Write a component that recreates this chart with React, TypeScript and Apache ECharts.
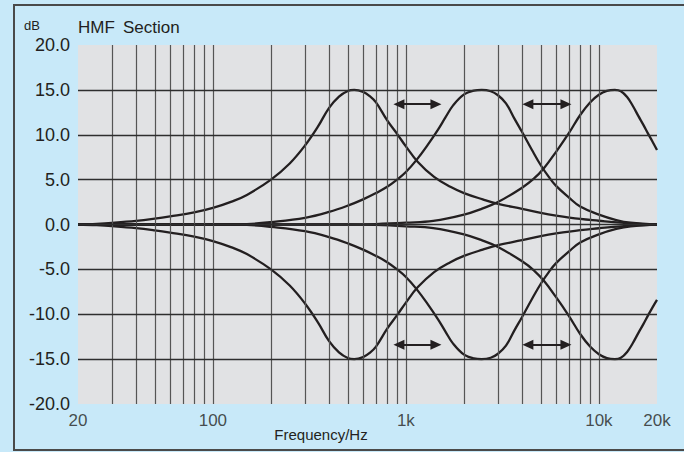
import React, { useEffect, useRef } from "react";
import * as echarts from "echarts";

// ---- data ----
const freqA = [20, 25, 30, 40, 50, 60, 80, 100, 125, 150, 200, 250, 300, 350, 400, 450, 500, 540, 600, 650, 700, 800, 900, 1000, 1150, 1400, 1700, 2000, 2500, 3000, 4000, 5000, 6000, 8000, 10000, 13000, 16000, 20000];
const boostA = [0, 0.08, 0.18, 0.4, 0.65, 0.9, 1.35, 1.85, 2.55, 3.3, 5.0, 6.8, 8.8, 10.9, 13.0, 14.25, 14.88, 15.0, 14.78, 14.3, 13.6, 11.6, 10.1, 8.7, 7.0, 5.3, 4.2, 3.5, 2.8, 2.3, 1.75, 1.3, 1.0, 0.62, 0.42, 0.2, 0.07, 0];
const cutA = [0, -0.08, -0.18, -0.4, -0.65, -0.9, -1.35, -1.85, -2.55, -3.3, -5.0, -6.8, -8.8, -10.9, -13.0, -14.25, -14.88, -15.0, -14.78, -14.3, -13.6, -11.6, -10.1, -8.7, -7.0, -5.3, -4.2, -3.5, -2.8, -2.3, -1.75, -1.3, -1.0, -0.62, -0.42, -0.2, -0.07, 0];

const freqB = [20, 100, 150, 200, 300, 400, 500, 600, 700, 800, 900, 1000, 1136, 1300, 1470, 1600, 1760, 2000, 2250, 2470, 2750, 3000, 3300, 3650, 4000, 4500, 5000, 5500, 6000, 7000, 8000, 10000, 12300, 14600, 20000];
const boostB = [0, 0, 0.05, 0.26, 0.74, 1.4, 2.1, 2.8, 3.5, 4.2, 5.0, 5.85, 7.2, 8.9, 10.6, 11.9, 13.3, 14.5, 14.92, 15.0, 14.85, 14.4, 13.5, 11.8, 10.3, 8.3, 6.6, 5.3, 4.3, 3.0, 2.0, 1.1, 0.5, 0.2, 0];
const cutB = [0, 0, -0.05, -0.26, -0.74, -1.4, -2.1, -2.8, -3.5, -4.2, -5.0, -5.85, -7.2, -8.9, -10.6, -11.9, -13.3, -14.5, -14.92, -15.0, -14.85, -14.4, -13.5, -11.8, -10.3, -8.3, -6.6, -5.3, -4.3, -3.0, -2.0, -1.1, -0.5, -0.2, 0];

const freqC = [20, 500, 700, 1000, 1386, 2000, 2500, 3000, 4000, 4600, 5200, 6000, 7000, 8000, 9000, 10000, 11000, 12100, 13000, 14000, 15000, 16000, 17000, 18000, 19000, 20000];
const boostC = [0, 0, 0.05, 0.2, 0.4, 1.1, 1.8, 2.5, 4.1, 5.1, 6.3, 8.1, 10.2, 12.2, 13.6, 14.45, 14.88, 15.0, 14.85, 14.2, 13.2, 12.1, 11.1, 10.1, 9.2, 8.3];
const cutC = [0, 0, -0.05, -0.2, -0.4, -1.1, -1.8, -2.5, -4.1, -5.1, -6.3, -8.1, -10.2, -12.2, -13.6, -14.45, -14.88, -15.0, -14.85, -14.2, -13.2, -12.1, -11.1, -10.1, -9.2, -8.4];

const xTickValues = [20, 100, 1000, 10000, 20000];
const xTickLabels = ["20", "100", "1k", "10k", "20k"];
const xGridValues = [30, 40, 50, 60, 70, 80, 90, 100, 200, 300, 400, 500, 600, 700, 800, 900, 1000, 2000, 3000, 4000, 5000, 6000, 7000, 8000, 9000, 10000];
const yGridValues = [-15, -10, -5, 0, 5, 10, 15];
const arrowRanges = [
  [920, 1431],
  [4286, 6750],
];
const arrowLevels = [13.4, -13.4];

const FONT = '"Liberation Sans", Arial, Helvetica, sans-serif';
const INK = "#231f20";

function zip(f: number[], g: number[]) {
  return f.map((v, i) => [v, g[i]]);
}

export default function App() {
  const ref = useRef<HTMLDivElement>(null);

  useEffect(() => {
    if (!ref.current) return;
    const chart = echarts.init(ref.current, undefined, { renderer: "svg" });

    const curve = (name: string, f: number[], g: number[]) => ({
      name,
      type: "line",
      data: zip(f, g),
      smooth: 0.4,
      symbol: "none",
      lineStyle: { color: INK, width: 2.3 },
      z: 4,
      silent: true,
    });

    const arrowData: any[] = [];
    arrowLevels.forEach((lvl) => {
      arrowRanges.forEach(([a, b]) => {
        arrowData.push([{ coord: [a, lvl] }, { coord: [b, lvl] }]);
      });
    });

    const option: any = {
      animation: false,
      backgroundColor: "transparent",
      grid: {
        left: 78,
        right: 27,
        top: 45,
        bottom: 48,
        show: true,
        backgroundColor: "#e1e2e4",
        borderWidth: 0,
      },
      xAxis: {
        type: "log",
        logBase: 10,
        min: 20,
        max: 20000,
        axisLabel: { show: false },
        axisTick: { show: false },
        axisLine: { show: false },
        splitLine: { show: false },
      },
      yAxis: {
        type: "value",
        min: -20,
        max: 20,
        interval: 5,
        axisLabel: {
          formatter: (v: number) => v.toFixed(1),
          fontSize: 18,
          color: INK,
          fontFamily: FONT,
          margin: 8,
        },
        axisTick: { show: false },
        axisLine: { show: false },
        splitLine: { show: false },
      },
      graphic: [
        {
          type: "rect",
          shape: { x: 14, y: 5, width: 700, height: 445 },
          style: { fill: "none", stroke: "#4a4a4a", lineWidth: 2 },
          silent: true,
        },
        {
          type: "text",
          x: 24,
          y: 25,
          style: { text: "dB", fill: INK, font: `13px ${FONT}`, align: "left", verticalAlign: "middle" },
        },
        {
          type: "text",
          x: 78,
          y: 27,
          style: { text: "HMF", fill: INK, font: `17px ${FONT}`, align: "left", verticalAlign: "middle" },
        },
        {
          type: "text",
          x: 123,
          y: 27,
          style: { text: "Section", fill: INK, font: `17px ${FONT}`, align: "left", verticalAlign: "middle" },
        },
        {
          type: "text",
          x: 321,
          y: 434,
          style: { text: "Frequency/Hz", fill: INK, font: `15px ${FONT}`, align: "center", verticalAlign: "middle" },
        },
      ],
      series: [
        {
          name: "grid",
          type: "line",
          data: [],
          symbol: "none",
          z: 2,
          markLine: {
            silent: true,
            symbol: ["none", "none"],
            label: { show: false },
            emphasis: { disabled: true },
            data: [
              ...xGridValues.map((v) => ({ xAxis: v, lineStyle: { color: "#555555", width: 1.2, type: "solid" } })),
              ...yGridValues.map((v) => ({ yAxis: v, lineStyle: { color: "#2e2e2e", width: 1.3, type: "solid" } })),
            ],
          },
        },
        curve("boostA", freqA, boostA),
        curve("cutA", freqA, cutA),
        curve("boostB", freqB, boostB),
        curve("cutB", freqB, cutB),
        curve("boostC", freqC, boostC),
        curve("cutC", freqC, cutC),
        {
          name: "arrows",
          type: "line",
          data: [],
          symbol: "none",
          z: 5,
          markLine: {
            silent: true,
            symbol: ["triangle", "triangle"],
            symbolSize: [10, 11],
            label: { show: false },
            emphasis: { disabled: true },
            lineStyle: { color: INK, width: 2.2, type: "solid" },
            data: arrowData,
          },
        },
        {
          name: "xticks",
          type: "scatter",
          symbolSize: 1,
          itemStyle: { color: "transparent" },
          silent: true,
          data: xTickValues.map((v) => [v, -20]),
          label: {
            show: true,
            position: "bottom",
            distance: 7,
            formatter: (p: any) => xTickLabels[p.dataIndex],
            fontSize: 17,
            color: INK,
            fontFamily: FONT,
          },
          z: 5,
        },
      ],
    };

    chart.setOption(option);
    return () => chart.dispose();
  }, []);

  return (
    <div
      style={{
        position: "fixed",
        left: 0,
        top: 0,
        width: 684,
        height: 452,
        background: "#c8e9f9",
      }}
    >
      <div ref={ref} style={{ width: 684, height: 452 }} />
    </div>
  );
}
